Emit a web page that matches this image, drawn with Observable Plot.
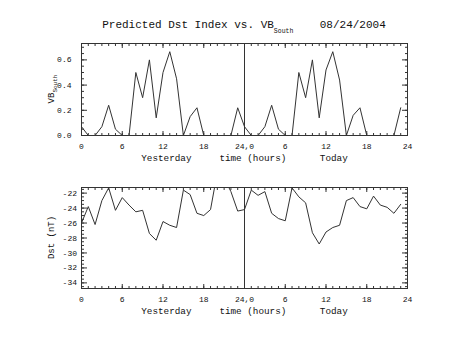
<!DOCTYPE html>
<html><head><meta charset="utf-8">
<script src="https://cdn.jsdelivr.net/npm/d3@7"></script>
<script src="https://cdn.jsdelivr.net/npm/@observablehq/plot@0.6"></script>
<style>
body{margin:0;background:#fff}
#chart{position:relative;width:453px;height:340px;background:#fff;overflow:hidden}
#chart svg{position:absolute;left:0}
#chart svg text{white-space:pre}
</style></head><body><div id="chart"></div>
<script>
// ---- data ----
const hours = [0,1,2,3,4,5,6,7,8,9,10,11,12,13,14,15,16,17,18,19,20,21,22,23];
const vbYesterday = [0.07,0,0,0.07,0.24,0.05,0,0,0.50,0.30,0.60,0.14,0.50,0.665,0.45,0,0.15,0.22,0,0,0,0,0,0.22];
const vbToday     = [0.07,0,0,0.07,0.24,0.05,0,0,0.50,0.30,0.60,0.14,0.52,0.665,0.44,0,0.16,0.22,0,0,0,0,0,0.22];
const dstYesterday = [-26.0,-23.8,-26.2,-23.0,-21.3,-24.3,-22.6,-23.6,-24.5,-24.3,-27.4,-28.3,-25.8,-26.3,-26.6,-21.6,-22.2,-24.7,-25.0,-24.2,-19.2,-20.0,-21.8,-24.4];
const dstToday     = [-24.2,-21.6,-22.3,-21.8,-24.7,-25.4,-25.7,-21.3,-22.5,-23.3,-27.3,-28.8,-27.2,-26.6,-26.3,-23.0,-22.6,-23.8,-24.1,-22.4,-23.6,-23.9,-24.7,-23.5];
const dayBoundary = [24];
const xMajorTicks = [0,6,12,18,24,30,36,42,48];
const xTickLabels = ["0","6","12","18","24,0","6","12","18","24"];
const vbTicks = [0,0.2,0.4,0.6];
const vbTickLabels = ["0.0","0.2","0.4","0.6"];
const dstTicks = [-34,-32,-30,-28,-26,-24,-22];
const dstTickLabels = ["-34","-32","-30","-28","-26","-24","-22"];
const xTitle = "Yesterday     time (hours)      Today";
const titleMain = "Predicted Dst Index vs. VB";
const titleSub = "South";
const titleDate = "    08/24/2004";
const vbLabel = "VB", vbLabelSub = "South";
const dstLabel = "Dst (nT)";

const vbData = [...hours.map((h,i)=>({x:h, y:vbYesterday[i]})), ...hours.map((h,i)=>({x:24+h, y:vbToday[i]}))];
const dstData = [...hours.map((h,i)=>({x:h, y:dstYesterday[i]})), ...hours.map((h,i)=>({x:24+h, y:dstToday[i]}))];

const INK = "#333", TXT = "#111";
const FONT = "'Liberation Mono', 'DejaVu Sans Mono', monospace";

function panel({data, yDomain, yMajor, yLabels, yMinor, marginTop, marginBottom, yGap}) {
  const xMinor = d3.range(0, 49, 1);
  const fmtX = d => xTickLabels[xMajorTicks.indexOf(d)];
  const fmtY = d => yLabels[yMajor.indexOf(d)];
  return Plot.plot({
    width: 453, height: 170,
    marginLeft: 81, marginRight: 46, marginTop, marginBottom,
    style: {fontFamily: FONT, fontSize: "8px", background: "white", color: TXT},
    x: {domain: [0, 48], axis: null},
    y: {domain: yDomain, axis: null},
    marks: [
      Plot.axisX({anchor: "bottom", ticks: xMinor, tickSize: -2, fill: "none", label: null, stroke: INK}),
      Plot.axisX({anchor: "top", ticks: xMinor, tickSize: -2, fill: "none", label: null, stroke: INK}),
      Plot.axisX({anchor: "bottom", ticks: xMajorTicks, tickSize: -4, fill: "none", label: null, stroke: INK}),
      Plot.axisX({anchor: "top", ticks: xMajorTicks, tickSize: -4, fill: "none", label: null, stroke: INK}),
      Plot.axisY({anchor: "left", ticks: yMinor, tickSize: -3, fill: "none", label: null, stroke: INK}),
      Plot.axisY({anchor: "right", ticks: yMinor, tickSize: -3, fill: "none", label: null, stroke: INK}),
      Plot.axisY({anchor: "left", ticks: yMajor, tickSize: -6, fill: "none", label: null, stroke: INK}),
      Plot.axisY({anchor: "right", ticks: yMajor, tickSize: -6, fill: "none", label: null, stroke: INK}),
      Plot.axisX({anchor: "bottom", ticks: xMajorTicks, tickSize: 0, tickPadding: 8.3, tickFormat: fmtX, label: null, fontSize: 8, fill: TXT}),
      Plot.axisY({anchor: "left", ticks: yMajor, tickSize: 0, tickPadding: yGap, tickFormat: fmtY, label: null, fontSize: 8, fill: TXT}),
      Plot.text([xTitle], {text: d => d, frameAnchor: "bottom", lineAnchor: "middle", dy: 22.5, fontSize: 9.3, fill: TXT}),
      Plot.frame({stroke: INK}),
      Plot.ruleX(dayBoundary, {stroke: INK, strokeWidth: 1}),
      Plot.line(data, {x: "x", y: "y", stroke: INK, strokeWidth: 1, clip: true})
    ]
  });
}

const chart = document.getElementById("chart");

const topPanel = panel({data: vbData, yDomain: [0, 0.73], yMajor: vbTicks, yLabels: vbTickLabels,
  yMinor: d3.range(0, 0.72, 0.05), marginTop: 43, marginBottom: 35, yGap: 10});
topPanel.style.top = "0px";
chart.appendChild(topPanel);

const bottomPanel = panel({data: dstData, yDomain: [-34.75, -21.25], yMajor: dstTicks, yLabels: dstTickLabels,
  yMinor: d3.range(-34.5, -21.4, 0.5), marginTop: 17, marginBottom: 52, yGap: 4.5});
bottomPanel.style.top = "170px";
chart.appendChild(bottomPanel);

const st = d3.select(topPanel);
const t = st.append("text").attr("x", 244).attr("y", 28).attr("text-anchor", "middle")
  .attr("fill", TXT).attr("font-family", FONT).attr("font-size", 11);
t.append("tspan").text(titleMain);
t.append("tspan").attr("dy", 5).attr("font-size", 6.5).text(titleSub);
t.append("tspan").attr("dy", -5).text(titleDate);

const yl = st.append("text").attr("transform", "translate(54,89) rotate(-90)").attr("text-anchor", "middle")
  .attr("fill", TXT).attr("font-family", FONT).attr("font-size", 9);
yl.append("tspan").text(vbLabel);
yl.append("tspan").attr("dy", 3).attr("font-size", 6).text(vbLabelSub);

d3.select(bottomPanel).append("text").attr("transform", "translate(54,67.5) rotate(-90)").attr("text-anchor", "middle")
  .attr("fill", TXT).attr("font-family", FONT).attr("font-size", 9).text(dstLabel);
</script></body></html>
